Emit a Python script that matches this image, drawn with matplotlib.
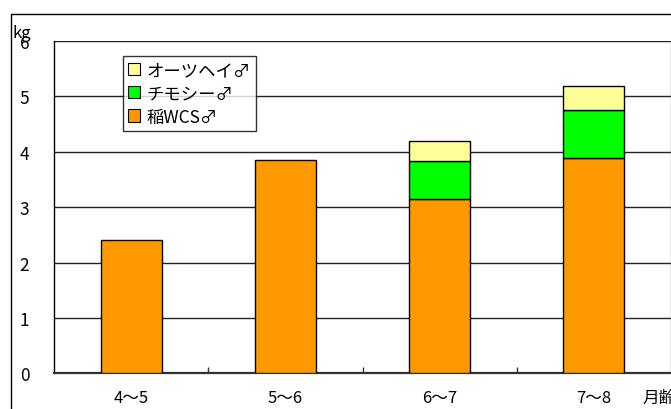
import matplotlib
matplotlib.use("Agg")
import matplotlib.pyplot as plt
from matplotlib.patches import Patch, Rectangle
import numpy as np

plt.rcParams['font.family'] = ['Noto Sans CJK JP', 'DejaVu Sans']

categories = ["4～5", "5～6", "6～7", "7～8"]
ine_wcs = [2.4, 3.85, 3.15, 3.89]
timothy = [0.0, 0.0, 0.69, 0.87]
oat_hay = [0.0, 0.0, 0.36, 0.43]
series_names = ["稲WCS♂", "チモシー♂", "オーツヘイ♂"]
series_colors = ["#FF9900", "#00FF00", "#FFFF99"]
yticks = [0, 1, 2, 3, 4, 5, 6]

W, H = 671, 410
fig = plt.figure(figsize=(W / 100, H / 100), dpi=100)

# outer chart frame
fig.patches.append(Rectangle((11 / W, -0.05), 1.1, (H - 15) / H + 0.05,
                             transform=fig.transFigure, fill=False,
                             edgecolor='black', linewidth=1.0, zorder=0))

ax = fig.add_axes([54.3 / W, (H - 374.4) / H, 616.4 / W, 332.4 / H])
x = np.arange(len(categories))
width = 0.40

bottoms = np.zeros(len(categories))
for vals, name, col in zip([ine_wcs, timothy, oat_hay], series_names, series_colors):
    vals = np.array(vals)
    mask = vals > 0
    ax.bar(x[mask], vals[mask], width, bottom=bottoms[mask], color=col,
           edgecolor='black', linewidth=1.0, label=name, zorder=3)
    bottoms = bottoms + vals

ax.set_xlim(-0.5, len(categories) - 0.5)
ax.set_ylim(0, 6)
ax.set_yticks(yticks)
ax.set_yticklabels([str(t) for t in yticks], fontsize=12.5)
ax.tick_params(axis='y', length=0, pad=18)
ax.yaxis.grid(True, color='#222222', linewidth=1.0, zorder=1)
ax.set_axisbelow(True)

ax.set_xticks(x)
ax.set_xticklabels(categories, fontsize=12)
ax.tick_params(axis='x', which='major', length=0, pad=11)
ax.set_xticks(np.arange(0.5, len(categories) - 0.5, 1.0), minor=True)
ax.tick_params(axis='x', which='minor', direction='in', length=4.5,
               width=1.0, color='#333333')

ax.spines['left'].set_color('black')
ax.spines['left'].set_linewidth(1.0)
ax.spines['bottom'].set_color('#333333')
ax.spines['bottom'].set_linewidth(1.6)
ax.spines['top'].set_visible(False)
ax.spines['right'].set_color('#888888')
ax.spines['right'].set_linewidth(1.0)

handles = [Patch(facecolor=c, edgecolor='black', linewidth=0.8)
           for c in series_colors[::-1]]
leg = ax.legend(handles, series_names[::-1], loc='upper left',
                bbox_to_anchor=(0.111, 0.955), borderaxespad=0,
                fontsize=12.5, frameon=True, fancybox=False,
                handlelength=0.7, handleheight=0.7, handletextpad=0.35,
                labelspacing=0.3, borderpad=0.3)
leg.get_frame().set_edgecolor('black')
leg.get_frame().set_linewidth(1.0)

fig.text(13 / W, 1 - 33 / H, "kg", fontsize=12, ha='left', va='center')
fig.text(642 / W, 1 - 398 / H, "月齢", fontsize=12, ha='left', va='center')

fig.savefig("out.png", dpi=100)
